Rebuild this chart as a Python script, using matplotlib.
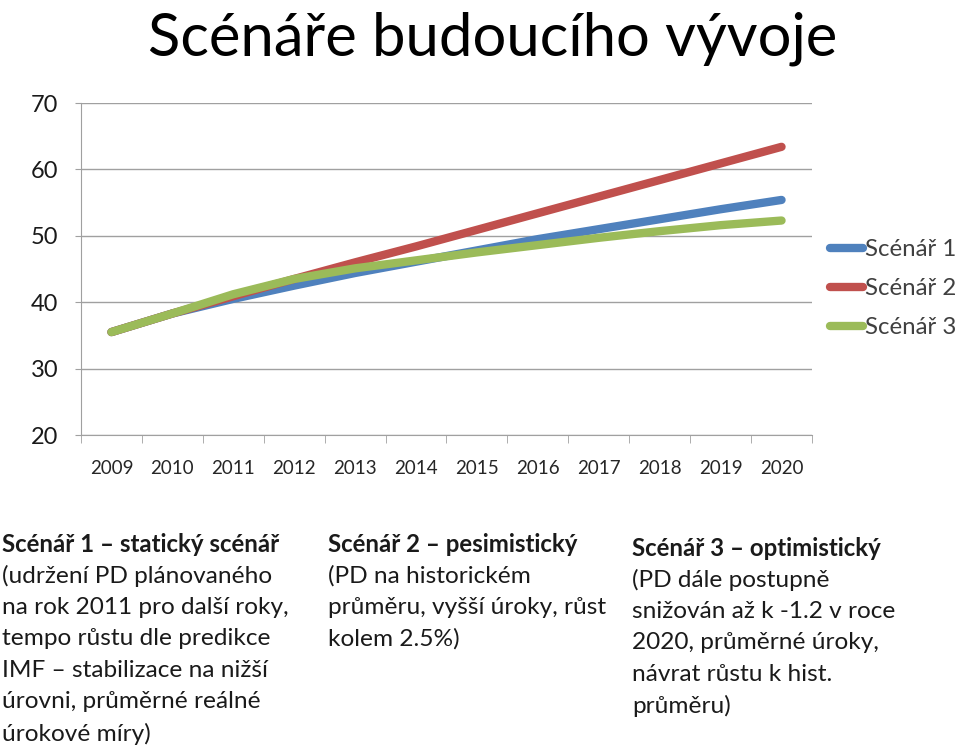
import matplotlib
matplotlib.use("Agg")
import matplotlib.pyplot as plt
from matplotlib.ticker import FixedLocator

plt.rcParams['font.family'] = ['Lato', 'DejaVu Sans']

# data
years = ['2009', '2010', '2011', '2012', '2013', '2014', '2015', '2016', '2017', '2018', '2019', '2020']
scenar1 = [35.5, 38.3, 40.5, 42.5, 44.4, 46.1, 47.8, 49.5, 51.0, 52.5, 54.0, 55.4]
scenar2 = [35.5, 38.3, 40.9, 43.5, 46.0, 48.4, 50.9, 53.4, 55.9, 58.4, 60.9, 63.4]
scenar3 = [35.5, 38.3, 41.2, 43.5, 45.1, 46.3, 47.5, 48.6, 49.7, 50.7, 51.6, 52.3]
series_names = ['Scénář 1', 'Scénář 2', 'Scénář 3']
colors = ['#4F81BD', '#C0504D', '#9BBB59']
yticks = [20, 30, 40, 50, 60, 70]

title = 'Scénáře budoucího vývoje'
notes = [
    ('Scénář 1 – statický scénář',
     ['(udržení PD plánovaného', 'na rok 2011 pro další roky,', 'tempo růstu dle predikce',
      'IMF – stabilizace na nižší', 'úrovni, průměrné reálné', 'úrokové míry)']),
    ('Scénář 2 – pesimistický',
     ['(PD na historickém', 'průměru, vyšší úroky, růst', 'kolem 2.5%)']),
    ('Scénář 3 – optimistický',
     ['(PD dále postupně', 'snižován až k -1.2 v roce', '2020, průměrné úroky,',
      'návrat růstu k hist.', 'průměru)']),
]

W, H = 960, 749
grid_c = '#a0a0a0'
fig = plt.figure(figsize=(W / 100, H / 100), dpi=100)
ax = fig.add_axes([81 / W, 1 - 435 / H, 731 / W, 332 / H])

x = list(range(len(years)))
for vals, name, c in zip([scenar1, scenar2, scenar3], series_names, colors):
    ax.plot(x, vals, color=c, lw=6, solid_capstyle='round', solid_joinstyle='round', label=name)

ax.set_xlim(-0.5, len(years) - 0.5)
ax.set_ylim(20, 70)
ax.set_yticks(yticks)
ax.yaxis.grid(True, color=grid_c, lw=1)
ax.set_axisbelow(True)
ax.set_xticks(x)
ax.set_xticklabels(years, fontsize=13.5, color='#262626')
ax.xaxis.set_minor_locator(FixedLocator([i - 0.5 for i in range(len(years) + 1)]))
ax.tick_params(axis='x', which='major', length=0, pad=18)
ax.tick_params(axis='x', which='minor', length=6, color=grid_c, direction='out')
ax.tick_params(axis='y', length=4.5, color=grid_c, labelsize=17, pad=12, labelcolor='#1a1a1a')
for s in ['top', 'right']:
    ax.spines[s].set_visible(False)
for s in ['left', 'bottom']:
    ax.spines[s].set_color(grid_c)

leg = ax.legend(loc='center left', bbox_to_anchor=(1.025, 0.44), frameon=False, fontsize=17.3,
                handlelength=1.35, handletextpad=0.1, labelspacing=0.75, borderaxespad=0,
                borderpad=0)
for t in leg.get_texts():
    t.set_color('#404040')

fig.text(493 / W, 1 - 55 / H, title, fontsize=43, ha='center', va='baseline', color='black')

col_x = [2, 328, 632]
col_y = [544, 544, 548]
line_h = 31.6
for (head, body), cx, cy in zip(notes, col_x, col_y):
    fig.text(cx / W, 1 - cy / H, head, fontsize=17.3, fontweight='bold', ha='left', va='center',
             color='#1a1a1a')
    for i, line in enumerate(body):
        fig.text(cx / W, 1 - (cy + line_h * (i + 1)) / H, line, fontsize=17.6, ha='left',
                 va='center', color='#1a1a1a')

fig.savefig('out.png', dpi=100)
